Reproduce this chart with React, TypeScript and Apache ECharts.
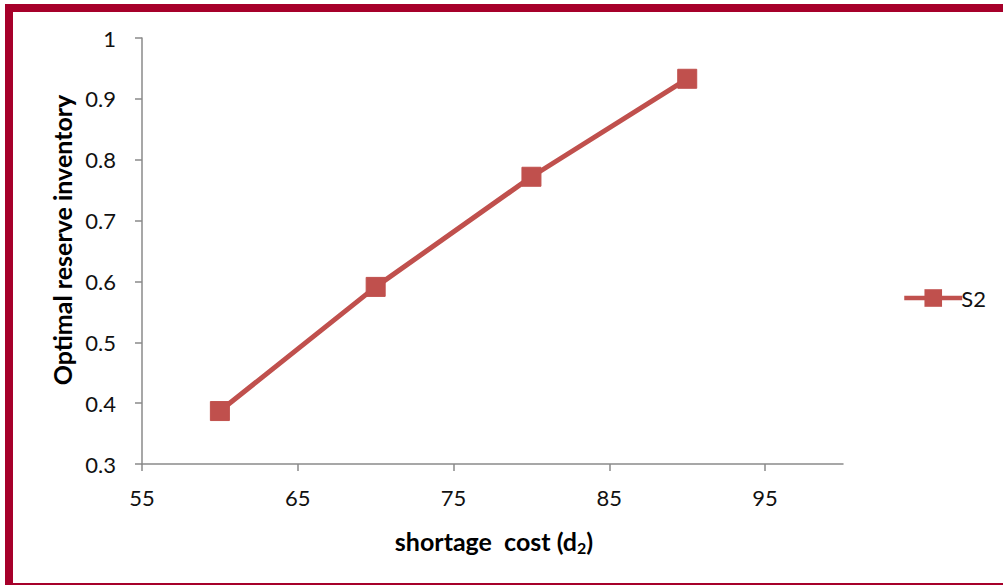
import React, { useEffect, useRef } from "react";
import * as echarts from "echarts";

// shortage cost d2 vs optimal reserve inventory for scenario S2
const shortageCost = [60, 70, 80, 90];
const reserveS2 = [0.387, 0.591, 0.772, 0.933];
const xTicks = [55, 65, 75, 85, 95];
const seriesName = "S2";

const FONT = "Lato, 'Open Sans', sans-serif";
const AXIS_GREY = "#8a8a8a";
const RED = "#C0504D";
const FRAME = "#A6002A";

export default function App() {
  const ref = useRef<HTMLDivElement>(null);

  useEffect(() => {
    if (!ref.current) return;
    const chart = echarts.init(ref.current, undefined, { renderer: "svg" });
    chart.setOption({
      animation: false,
      backgroundColor: "transparent",
      grid: { left: 142, top: 38, right: 160, bottom: 121 },
      xAxis: {
        type: "value",
        min: 55,
        max: 100,
        splitLine: { show: false },
        axisLine: { lineStyle: { color: AXIS_GREY, width: 1.5 } },
        axisTick: {
          length: 7,
          customValues: xTicks,
          lineStyle: { color: AXIS_GREY, width: 1.5 },
        },
        axisLabel: {
          customValues: xTicks,
          margin: 22,
          color: "#111",
          fontFamily: FONT,
          fontSize: 22,
        },
      },
      yAxis: {
        type: "value",
        min: 0.3,
        max: 1,
        interval: 0.1,
        splitLine: { show: false },
        axisLine: { show: true, lineStyle: { color: AXIS_GREY, width: 1.5 } },
        axisTick: { show: true, length: 7, lineStyle: { color: AXIS_GREY, width: 1.5 } },
        axisLabel: {
          margin: 26,
          color: "#111",
          fontFamily: FONT,
          fontSize: 22,
          formatter: (v: number) => String(Math.round(v * 10) / 10),
        },
      },
      legend: {
        left: 897,
        top: 282,
        itemWidth: 58,
        itemHeight: 22,
        itemGap: 4,
        lineStyle: { width: 4.5 },
        textStyle: { color: "#111", fontFamily: FONT, fontSize: 22, padding: [0, 0, 0, -6] },
        data: [seriesName],
      },
      graphic: [
        {
          type: "text",
          x: 62,
          y: 240,
          rotation: Math.PI / 2,
          style: {
            text: "Optimal reserve inventory",
            fontFamily: FONT,
            fontWeight: "bold",
            fontSize: 25,
            fill: "#000",
            align: "center",
            verticalAlign: "middle",
          },
        },
        {
          type: "text",
          x: 494,
          y: 541,
          style: {
            text: "{a|shortage  cost (d}{s|2}{a|)}",
            align: "center",
            verticalAlign: "middle",
            rich: {
              a: { fontFamily: FONT, fontWeight: "bold", fontSize: 25, fill: "#000" },
              s: {
                fontFamily: FONT,
                fontWeight: "bold",
                fontSize: 16,
                fill: "#000",
                padding: [12, 0, 0, 0],
              },
            },
          },
        },
      ],
      series: [
        {
          name: seriesName,
          type: "line",
          data: shortageCost.map((x, i) => [x, reserveS2[i]]),
          symbol: "rect",
          symbolSize: 19,
          lineStyle: { color: RED, width: 5 },
          itemStyle: { color: RED, borderColor: RED },
        },
      ],
    });
    return () => chart.dispose();
  }, []);

  return (
    <div style={{ position: "fixed", left: 0, top: 0, width: 1003, height: 585, background: "#fff" }}>
      <div
        style={{
          position: "absolute",
          left: 5,
          top: 4,
          width: 1010,
          height: 581,
          boxSizing: "border-box",
          borderLeft: `8px solid ${FRAME}`,
          borderTop: `8px solid ${FRAME}`,
          borderBottom: `2px solid ${FRAME}`,
        }}
      />
      <div ref={ref} style={{ position: "absolute", left: 0, top: 0, width: 1003, height: 585 }} />
    </div>
  );
}
